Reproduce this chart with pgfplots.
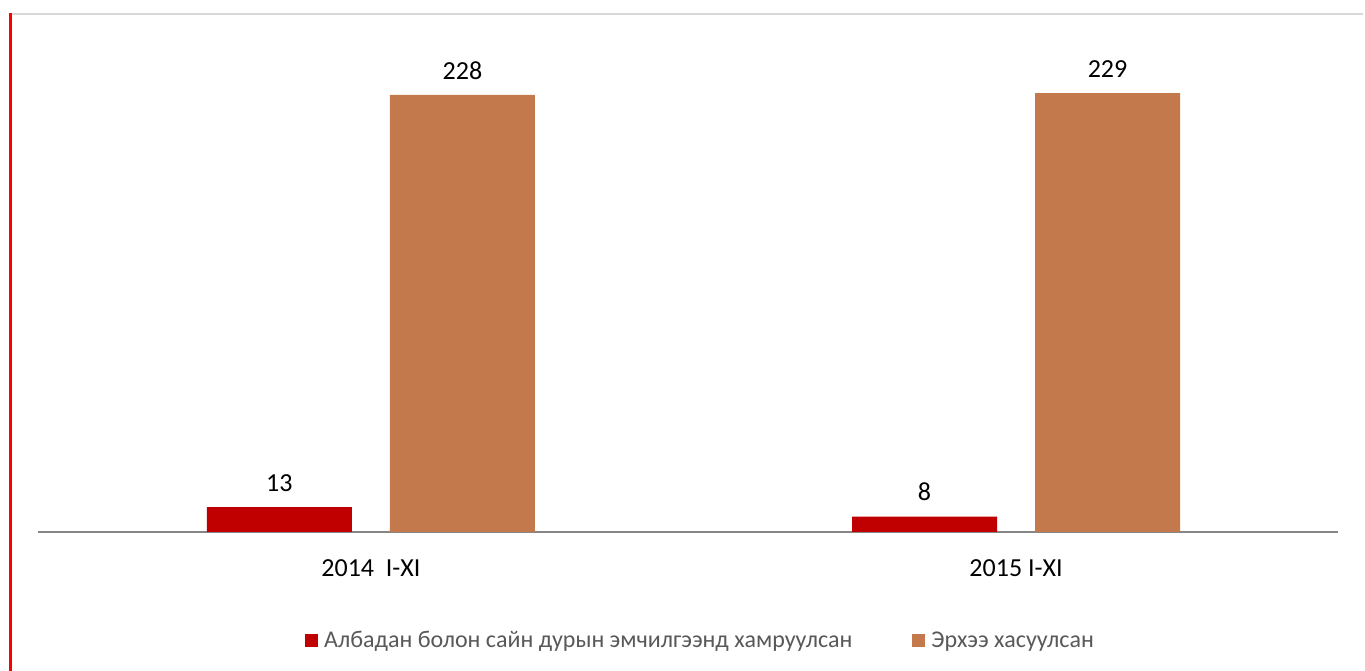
\documentclass[border=0pt]{standalone}
\usepackage{pgfplots}
\pgfplotsset{compat=1.18}
\usepackage{fontspec}
\setmainfont{Carlito}
\definecolor{barred}{RGB}{192,0,0}
\definecolor{barorange}{RGB}{196,121,77}
\definecolor{axgray}{RGB}{134,134,134}
\definecolor{topgray}{RGB}{217,217,217}
\definecolor{legtext}{RGB}{89,89,89}
\begin{document}
\begin{tikzpicture}[x=1pt,y=1pt]
\path[use as bounding box] (0,0) rectangle (1365,671);
\fill[white] (0,0) rectangle (1365,671);
\draw[topgray, line width=2pt] (12,657) -- (1363,657);
\fill[red] (9,0) rectangle (12,658);
\begin{axis}[
  at={(38pt,139pt)}, anchor=south west,
  scale only axis, width=1300pt, height=479.2pt,
  xmin=-0.516, xmax=1.499, ymin=0, ymax=250,
  axis x line=bottom, axis y line=none,
  x axis line style={axgray, line width=2pt, -},
  xtick={0,1}, xticklabels={2014\ \ I-XI, 2015 I-XI},
  major tick length=0pt,
  xticklabel style={font=\fontsize{26}{30}\selectfont, yshift=-24pt},
  ytick=\empty,
  ybar, bar width=145pt,
  nodes near coords,
  /pgf/number format/assume math mode=true,
  every node near coord/.append style={font=\fontsize{26}{30}\selectfont, text=black, yshift=12pt},
  legend columns=2,
  legend style={draw=none, at={(0.2054,-0.2254)}, anchor=west,
    font=\fontsize{24}{28}\selectfont, text=legtext,
    /tikz/every odd column/.append style={column sep=4pt},
    /tikz/every even column/.append style={column sep=58pt},
    inner sep=0pt},
  legend image code/.code={\fill[#1] (0pt,-6.5pt) rectangle (13pt,6.5pt);},
  clip=false,
]
\addplot[fill=barred, draw=none, bar shift=-91.5pt] coordinates {(0,13) (1,8)};
\addplot[fill=barorange, draw=none, bar shift=91.5pt] coordinates {(0,228) (1,229)};
\legend{Албадан болон сайн дурын эмчилгээнд хамруулсан, Эрхээ хасуулсан}
\end{axis}
\end{tikzpicture}
\end{document}
